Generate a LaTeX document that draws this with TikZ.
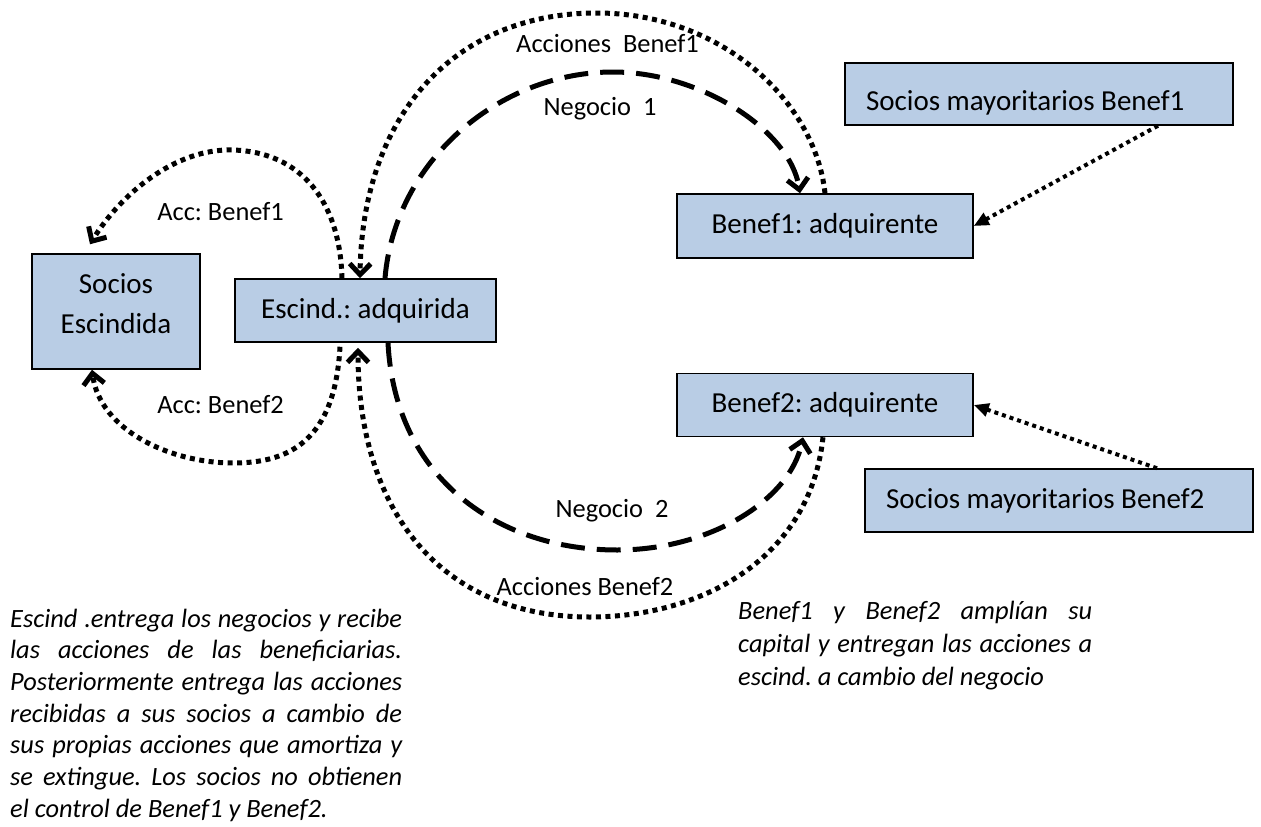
\documentclass[tikz,border=0pt]{standalone}
\usepackage{fontspec}
\setmainfont{Carlito}
\usetikzlibrary{arrows.meta,calc}
\definecolor{boxfill}{RGB}{185,205,229}
\frenchspacing

% one justified line of a paragraph, and the closing line
\newcommand\jline[2]{\hbox to #1{\spaceskip=.23em plus 1fil\relax #2}}
\newcommand\lline[2]{\hbox to #1{#2\hfil}}

\begin{document}
\begin{tikzpicture}[x=1pt,y=-1pt,
  box/.style={draw=black, line width=1.5pt, fill=boxfill, inner sep=0pt,
              font=\fontsize{29}{35}\selectfont},
  lbl/.style={font=\fontsize{26.4}{32}\selectfont, inner sep=0pt, anchor=base},
  note/.style={font=\fontsize{26.4}{31.7}\selectfont\itshape, inner sep=0pt, anchor=base west},
  dotline/.style={line width=5pt, dash pattern=on 5pt off 4.5pt},
  thindot/.style={line width=4pt, dash pattern=on 4pt off 4pt},
  dashline/.style={line width=5pt, dash pattern=on 24pt off 12pt},
  vtip/.style={-{Straight Barb[length=11pt,width=21pt]}},
  ftip/.style={-{Triangle[length=15pt,width=13pt]}}
]
\fill[white] (0,0) rectangle (1261,827);
\useasboundingbox (0,0) rectangle (1261,827);

% boxes
\node[box, minimum width=168pt, minimum height=115pt] (socesc) at (116,311.5) {};
\node[font=\fontsize{29}{40}\selectfont, align=center, inner sep=0pt] (socesctxt) at (116,303.5) {Socios\\Escindida};
\node[box, minimum width=261pt, minimum height=63pt] (esc) at (365.5,310.5) {Escind.: adquirida};
\node[box, minimum width=296pt, minimum height=64pt] (ben1) at (825,226) {Benef1: adquirente};
\node[box, minimum width=296pt, minimum height=63pt] (ben2) at (825,405) {Benef2: adquirente};
\node[box, text width=346pt, inner xsep=21pt, align=flush left, minimum height=62pt,
      text height=37.8pt, text depth=5.8pt] (may1) at (1039,94) {Socios mayoritarios Benef1};
\node[box, text width=346pt, inner xsep=21pt, align=flush left, minimum height=63pt] (may2) at (1059,500.5) {Socios mayoritarios Benef2};

% shares handed to the partners of the split company
\draw[dotline, vtip] ([xshift=-23.5pt]esc.north) .. controls (340,200) and (300,152) .. (233,150)
      .. controls (175,148) and (120,195) .. ([xshift=-26pt,yshift=9pt]socesc.north);
\draw[dotline, vtip] ([xshift=-25.5pt,yshift=-4pt]esc.south) .. controls (335,440) and (290,463) .. (233,463)
      .. controls (170,463) and (100,430) .. ([xshift=-24pt]socesc.south);

% shares of the beneficiaries
\draw[dotline, vtip] (ben1.north) .. controls (815,100) and (720,13) .. (597,13)
      .. controls (450,13) and (362,120) .. ([xshift=-5.5pt]esc.north);
\draw[dotline, vtip] ([xshift=-2pt]ben2.south) .. controls (810,560) and (700,617) .. (590,617)
      .. controls (440,617) and (358,510) .. ([xshift=-7.5pt,yshift=-5pt]esc.south);

% businesses transferred
\draw[dashline, vtip] ([xshift=19.5pt]esc.north) .. controls (395,160) and (500,72) .. (613,72)
      .. controls (700,72) and (790,130) .. ([xshift=-25pt]ben1.north);
\draw[dashline, vtip] ([xshift=22.5pt]esc.south) .. controls (395,480) and (500,550) .. (617,550)
      .. controls (710,550) and (790,500) .. ([xshift=-22pt]ben2.south);

% majority partners
\draw[thindot, ftip] ([xshift=119pt]may1.south) -- (ben1.east);
\draw[thindot, ftip] ([xshift=98pt]may2.north) -- (ben2.east);

% connector labels
\node[lbl] (lacc1) at (220.5,220) {Acc: Benef1};
\node[lbl] (lacc2) at (220.5,413) {Acc: Benef2};
\node[lbl] (lacciones1) at (607.5,52) {Acciones\ \ Benef1};
\node[lbl] (lneg1) at (600,115) {Negocio\ \ 1};
\node[lbl] (lneg2) at (612,517) {Negocio\ \ 2};
\node[lbl] (lacciones2) at (585,595) {Acciones Benef2};

% explanatory notes
\node[note] (notaesc) at (10,627) {\vtop{%
  \jline{392pt}{Escind .entrega los negocios y recibe}
  \jline{392pt}{las acciones de las beneficiarias.}
  \jline{392pt}{Posteriormente entrega las acciones}
  \jline{392pt}{recibidas a sus socios a cambio de}
  \jline{392pt}{sus propias acciones que amortiza y}
  \jline{392pt}{se extingue. Los socios no obtienen}
  \lline{392pt}{el control de Benef1 y Benef2.}}};
\node[note] (notaben) at (738,619) {\vtop{\baselineskip=33pt
  \jline{354pt}{Benef1 y Benef2 amplían su}
  \jline{354pt}{capital y entregan las acciones a}
  \lline{354pt}{escind. a cambio del negocio}}};
\end{tikzpicture}
\end{document}
